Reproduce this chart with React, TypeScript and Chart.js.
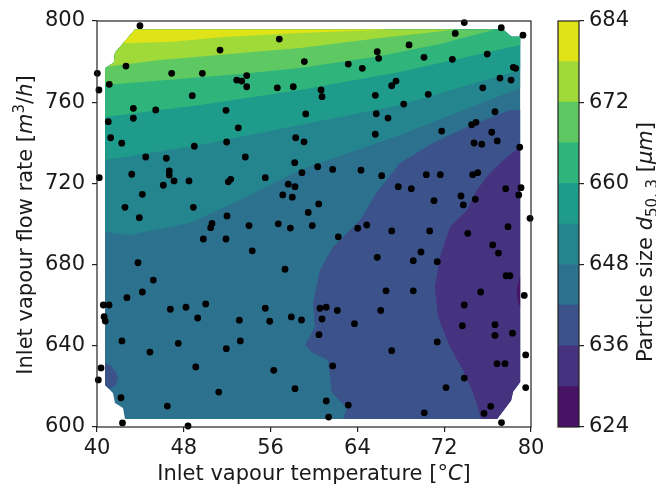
import React, { useEffect, useRef } from 'react';
import { Chart, registerables } from 'chart.js';
Chart.register(...registerables);

const FONT = '"DejaVu Sans", sans-serif';
const INK = '#1a1a1a';

// contour levels and their fill colours (viridis, band mid-points)
const levels = [624, 630, 636, 642, 648, 654, 660, 666, 672, 678, 684];
const bandColors = ['#471365', '#46337f', '#3b528b', '#2c718e', '#25858e', '#1e9b8a', '#2fb47c', '#5ec962', '#a0da39', '#dfe318'];
const colorbarTicks = [624, 636, 648, 660, 672, 684];
const xTicks = [40, 48, 56, 64, 72, 80];
const yTicks = [600, 640, 680, 720, 760, 800];

// sampled operating points: inlet vapour temperature [°C] / flow rate [m3/h]
const sampleTemp = [
  43.96, 56.8, 51.34, 59.11, 42.67, 40.03, 46.88, 49.71, 52.88, 53.34, 53.8, 53.8, 56.62, 58.09, 41.13, 40.18, 48.78, 43.35, 43.35, 45.41,
  51.89, 59.24, 41.04, 53.02, 41.26, 42.28, 48.97, 51.95, 58.31, 59.08, 44.49, 46.39, 53.67, 58.22, 43.2, 46.66, 46.66, 58.89, 40.21, 46.11,
  47.1, 48.48, 52.1, 52.32, 55.51, 57.63, 58.25, 44.18, 57.12, 58.0, 42.58, 48.88, 59.47, 43.9, 51.98,
  73.85, 77.26, 79.26, 73.02, 68.76, 65.83, 65.96, 75.97, 63.16, 64.45, 70.14, 72.75, 78.37, 78.59, 77.14, 78.16, 75.55, 67.56, 67.16, 60.65,
  60.74, 65.65, 70.53, 68.27, 65.74, 66.82, 76.68, 74.53, 74.93, 71.77, 65.65, 76.38, 76.89, 74.75, 75.46, 78.96, 60.34, 61.72, 64.33, 66.24,
  70.35, 71.64, 74.63, 75.09, 77.67, 79.08, 78.87, 67.77, 68.97, 73.55, 71.06, 74.87, 73.76, 60.43, 79.91,
  50.6, 50.48, 54.01, 56.71, 57.82, 49.8, 51.89, 54.31, 43.78, 57.33, 45.19, 44.18, 42.76, 40.58, 41.11, 40.65, 40.76, 46.76, 48.2, 50.02,
  49.28, 55.51, 53.12, 55.92, 57.91, 58.85, 42.3, 47.49, 53.21, 44.88, 51.92, 49.1, 56.29, 40.37, 40.12, 42.21, 51.22, 58.25, 46.48, 42.35, 48.39,
  59.84, 62.24, 64.03, 64.86, 67.16, 70.66, 74.17, 77.88, 76.47, 77.0, 65.83, 69.15, 69.86, 71.36, 77.7, 78.06, 66.64, 69.15, 75.36, 79.38,
  60.55, 61.13, 62.15, 66.15, 60.74, 63.73, 73.85, 73.67, 76.68, 76.68, 78.29, 60.46, 71.36, 67.16, 79.51, 61.72, 76.87, 77.6, 73.85, 72.17,
  79.51, 61.13, 63.16, 61.35, 70.16, 76.29, 75.67, 77.28,
];
const sampleFlow = [
  797.7, 791.1, 785.7, 780.0, 777.8, 774.2, 774.2, 774.2, 770.9, 770.4, 773.1, 767.6, 767.1, 767.6, 768.8, 766.0, 763.2, 757.0, 752.1, 756.2,
  756.0, 754.2, 750.4, 747.4, 742.5, 739.8, 738.3, 740.4, 742.5, 740.5, 733.0, 732.4, 733.0, 730.2, 724.5, 726.1, 724.1, 725.3, 722.8, 719.1,
  721.2, 721.2, 720.8, 722.0, 722.8, 719.6, 718.4, 714.6, 714.3, 713.2, 708.2, 708.2, 705.7, 703.1, 704.0,
  799.2, 796.7, 793.0, 793.9, 788.2, 784.9, 781.6, 783.7, 778.8, 776.7, 782.1, 781.1, 777.2, 776.7, 771.9, 770.9, 767.1, 770.4, 768.1, 766.0,
  762.7, 763.4, 763.9, 759.1, 754.3, 752.2, 755.3, 748.9, 750.1, 745.8, 744.2, 745.2, 740.9, 739.9, 739.3, 737.8, 728.2, 726.9, 726.5, 723.8,
  724.3, 724.3, 724.3, 725.3, 717.4, 717.9, 714.3, 718.4, 717.4, 713.8, 711.5, 712.2, 709.4, 709.9, 702.8,
  700.3, 698.2, 699.2, 700.1, 698.0, 692.6, 692.6, 686.8, 680.9, 677.7, 672.4, 666.5, 663.7, 660.1, 660.1, 654.3, 652.2, 658.0, 659.0, 660.6,
  653.7, 658.5, 652.6, 652.1, 654.2, 652.7, 642.4, 641.2, 642.4, 636.9, 638.6, 629.6, 627.9, 629.1, 623.2, 614.4, 617.2, 618.9, 610.3, 602.0, 600.5,
  699.2, 693.7, 697.9, 699.5, 696.6, 696.6, 695.4, 698.7, 689.7, 685.7, 683.6, 681.9, 686.2, 681.4, 674.5, 674.5, 667.1, 667.1, 666.5, 664.8,
  658.5, 659.0, 657.4, 657.4, 653.2, 650.9, 660.1, 649.9, 650.4, 645.1, 646.2, 645.5, 641.9, 637.6, 635.5, 630.1, 631.2, 631.2, 624.1, 619.4,
  619.4, 612.8, 610.8, 604.9, 607.0, 610.2, 606.7, 602.2,
];

type P = [number, number];
// outline of the contoured domain
const hull: P[] = [[43.5, 795.8], [77.42, 795.8], [78.22, 792.3], [79.0, 792.3], [79.0, 622.2], [78.34, 617.4], [78.16, 613.0], [76.87, 603.9],
  [42.58, 603.9], [42.4, 609.4], [41.66, 611.8], [41.47, 616.7], [40.74, 620.7], [40.74, 776.7], [41.57, 779.5], [41.66, 784.4]];
const hullTop: P[] = [[79.0, 792.3], [78.22, 792.3], [77.42, 795.8], [43.5, 795.8], [41.66, 784.4], [41.57, 779.5], [40.74, 776.7]];
const hullBottomRight: P[] = [[76.87, 603.9], [78.16, 613.0], [78.34, 617.4], [79.0, 622.2]];

// iso-lines
const iso678: P[] = [[42.4, 789.0], [47.0, 789.8], [51.61, 792.1], [58.71, 794.1], [67.28, 795.8]];
const iso672: P[] = [[41.01, 777.6], [45.81, 780.8], [52.26, 783.7], [58.71, 786.7], [66.08, 791.6], [73.18, 795.8]];
const iso666: P[] = [[40.74, 768.5], [46.73, 771.0], [53.18, 773.9], [58.71, 776.8], [66.08, 782.8], [71.61, 788.7], [76.68, 795.8]];
const iso660: P[] = [[40.74, 752.7], [49.49, 758.6], [58.71, 766.0], [67.93, 774.9], [79.0, 788.2]];
const iso654: P[] = [[40.74, 731.5], [49.49, 738.9], [58.71, 748.8], [67.93, 758.6], [79.0, 775.9]];
const iso648: P[] = [[40.74, 696.1], [43.04, 694.6], [48.57, 700.5], [53.18, 711.8], [58.71, 726.6], [67.93, 743.8], [79.0, 767.0]];
const iso642: P[] = [[79.0, 756.2], [78.06, 756.2], [74.1, 747.8], [70.97, 739.9], [67.93, 730.0], [65.62, 714.3], [64.24, 702.0], [61.75, 688.7],
  [60.55, 677.3], [59.91, 661.1], [60.09, 649.3], [59.17, 640.4], [59.91, 636.5], [61.29, 633.0], [61.66, 616.7], [63.04, 609.4], [62.67, 603.9]];
const iso636: P[] = [[79.0, 737.9], [77.79, 733.0], [76.22, 725.1], [75.02, 716.7], [74.1, 706.9], [72.53, 698.5], [71.61, 683.7], [71.15, 669.0],
  [71.43, 654.2], [72.53, 639.4], [73.73, 628.1], [74.65, 616.7], [75.12, 609.4], [75.39, 603.9]];
const pocket630: P[] = [[79.0, 674.0], [78.75, 669.5], [78.7, 666.0], [78.8, 662.0], [79.0, 659.0]];
const pocketLeft642: P[] = [[40.74, 631.5], [41.29, 630.0], [41.75, 627.1], [41.94, 623.6], [41.66, 620.2], [41.11, 618.7], [40.74, 620.7]];

type Run = { t: string; it?: boolean; sup?: boolean; sub?: boolean };
function drawRuns(ctx: CanvasRenderingContext2D, runs: Run[], size: number) {
  const fontFor = (r: Run) => `${r.it ? 'italic ' : ''}${r.sup || r.sub ? Math.round(size * 0.7) : size}px ${FONT}`;
  let w = 0;
  for (const r of runs) { ctx.font = fontFor(r); w += ctx.measureText(r.t).width; }
  let x = -w / 2;
  ctx.textAlign = 'left';
  ctx.textBaseline = 'alphabetic';
  ctx.fillStyle = INK;
  for (const r of runs) {
    ctx.font = fontFor(r);
    const dy = r.sup ? -size * 0.36 : r.sub ? size * 0.22 : 0;
    ctx.fillText(r.t, x, dy);
    x += ctx.measureText(r.t).width;
  }
}

const xTitle: Run[] = [{ t: 'Inlet vapour temperature [' }, { t: '°' }, { t: 'C', it: true }, { t: ']' }];
const yTitle: Run[] = [{ t: 'Inlet vapour flow rate [' }, { t: 'm', it: true }, { t: '3', sup: true }, { t: '/' }, { t: 'h', it: true }, { t: ']' }];
const cbTitle: Run[] = [{ t: 'Particle size ' }, { t: 'd', it: true }, { t: '50, 3', sub: true }, { t: ' [' }, { t: 'μm', it: true }, { t: ']' }];

const toXY = (pts: P[]) => pts.map(([x, y]) => ({ x, y }));

function region(pts: P[], color: string, order: number) {
  return {
    type: 'line' as const,
    data: toXY(pts),
    fill: 'shape',
    backgroundColor: color,
    borderColor: color,
    borderWidth: 0,
    pointRadius: 0,
    tension: 0,
    order,
  };
}

const FS = 21;
const tickFont = { family: FONT, size: FS };

export default function App() {
  const mainRef = useRef<HTMLCanvasElement>(null);
  const cbRef = useRef<HTMLCanvasElement>(null);

  useEffect(() => {
    const framePlugin = {
      id: 'frameAndTitles',
      afterDraw(chart: any) {
        const { ctx, chartArea: a } = chart;
        ctx.save();
        ctx.strokeStyle = '#222';
        ctx.lineWidth = 1.2;
        ctx.strokeRect(a.left, a.top, a.right - a.left, a.bottom - a.top);
        ctx.restore();
        ctx.save();
        ctx.translate((a.left + a.right) / 2, 480);
        drawRuns(ctx, xTitle, FS);
        ctx.restore();
        ctx.save();
        ctx.translate(31.5, 225);
        ctx.rotate(-Math.PI / 2);
        drawRuns(ctx, yTitle, FS);
        ctx.restore();
      },
    };

    const points = sampleTemp.map((x, i) => ({ x, y: sampleFlow[i] }));
    const c = bandColors;
    const main = new Chart(mainRef.current!, {
      type: 'scatter',
      data: {
        datasets: [
          { type: 'scatter', data: points, pointRadius: 3.4, backgroundColor: '#000', borderWidth: 0, order: 0, clip: false } as any,
          region(pocket630, c[0], 10),
          region(iso636.concat(hullBottomRight), c[1], 11),
          region(pocketLeft642, c[2], 12),
          region(iso642.concat(hullBottomRight), c[2], 13),
          region(iso678.concat(hullTop.slice(3, 4)), c[9], 14),
          region(iso672.concat(hullTop.slice(3, 6)), c[8], 15),
          region(iso666.concat(hullTop.slice(3)), c[7], 16),
          region(iso660.concat(hullTop), c[6], 17),
          region(iso654.concat(hullTop), c[5], 18),
          region(iso648.concat(hullTop), c[4], 19),
          region(hull, c[3], 20),
        ] as any,
      },
      options: {
        responsive: false,
        animation: false,
        events: [],
        layout: { padding: { left: 0, top: 21, right: 125, bottom: 0 } },
        plugins: { legend: { display: false }, tooltip: { enabled: false } },
        scales: {
          x: {
            type: 'linear', min: 40, max: 80,
            afterBuildTicks: (ax: any) => { ax.ticks = xTicks.map((v) => ({ value: v })); },
            ticks: { font: tickFont, color: INK, padding: 4, maxRotation: 0, autoSkip: false },
            grid: { drawOnChartArea: false, drawTicks: true, tickLength: 5, color: '#222', lineWidth: 1.2 },
            border: { display: false },
            afterFit: (ax: any) => { ax.height = 60; },
          },
          y: {
            type: 'linear', min: 600, max: 800,
            afterBuildTicks: (ax: any) => { ax.ticks = yTicks.map((v) => ({ value: v })); },
            ticks: { font: tickFont, color: INK, padding: 7, autoSkip: false },
            grid: { drawOnChartArea: false, drawTicks: true, tickLength: 5, color: '#222', lineWidth: 1.2 },
            border: { display: false },
            afterFit: (ax: any) => { ax.width = 97; },
          },
        },
      } as any,
      plugins: [framePlugin],
    });

    const cbPlugin = {
      id: 'cbFrame',
      afterDraw(chart: any) {
        const { ctx, chartArea: a } = chart;
        ctx.save();
        ctx.strokeStyle = '#222';
        ctx.lineWidth = 1.2;
        ctx.strokeRect(a.left, a.top, a.right - a.left, a.bottom - a.top);
        ctx.restore();
        ctx.save();
        ctx.translate(112, 242);
        ctx.rotate(-Math.PI / 2);
        drawRuns(ctx, cbTitle, FS);
        ctx.restore();
      },
    };

    const cb = new Chart(cbRef.current!, {
      type: 'bar',
      data: {
        labels: [''],
        datasets: bandColors.map((col, i) => ({
          data: [[levels[i], levels[i + 1]]],
          backgroundColor: col,
          borderWidth: 0,
          grouped: false,
          barPercentage: 1,
          categoryPercentage: 1,
        })) as any,
      },
      options: {
        responsive: false,
        animation: false,
        events: [],
        layout: { padding: { left: 18, top: 21, right: 0, bottom: 60 } },
        plugins: { legend: { display: false }, tooltip: { enabled: false } },
        scales: {
          x: { display: false },
          y: {
            position: 'right', min: 624, max: 684,
            afterBuildTicks: (ax: any) => { ax.ticks = colorbarTicks.map((v) => ({ value: v })); },
            ticks: { font: tickFont, color: INK, padding: 5, autoSkip: false },
            grid: { drawOnChartArea: false, drawTicks: true, tickLength: 5, color: '#222', lineWidth: 1.2 },
            border: { display: false },
            afterFit: (ax: any) => { ax.width = 77; },
          },
        },
      } as any,
      plugins: [cbPlugin],
    });

    return () => { main.destroy(); cb.destroy(); };
  }, []);

  return (
    <div style={{ position: 'absolute', left: 0, top: 0, width: 656, height: 487, background: '#fff' }}>
      <canvas ref={mainRef} width={656} height={487} style={{ position: 'absolute', left: 0, top: 0 }} />
      <canvas ref={cbRef} width={116} height={487} style={{ position: 'absolute', left: 540, top: 0 }} />
    </div>
  );
}
